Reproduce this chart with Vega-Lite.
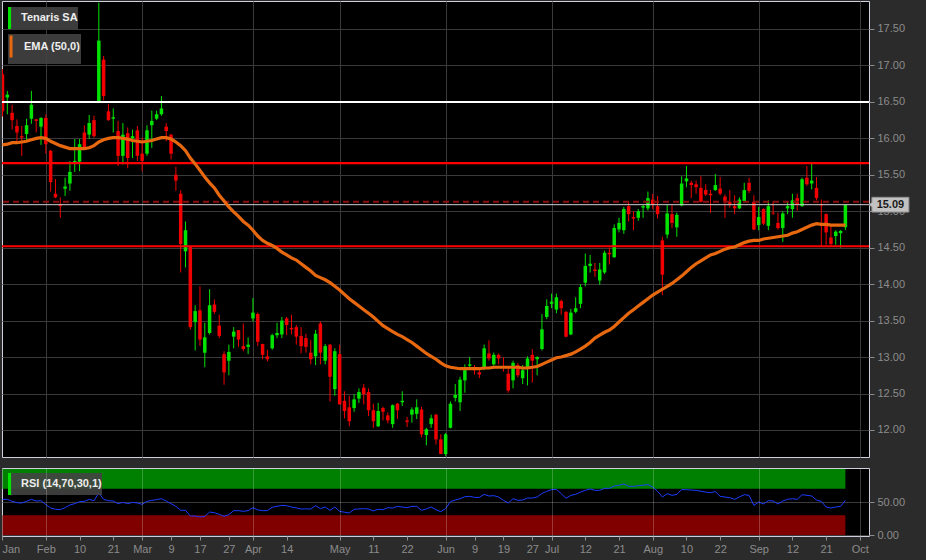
{
"$schema": "https://vega.github.io/schema/vega-lite/v6.json",
"background": "#2b2b2b",
"padding": {"left": 0, "top": 0, "right": 19, "bottom": 5},
"autosize": {"type": "pad"},
"spacing": 9,
"config": {
 "view": {"fill": "#000000", "stroke": "#cdd0dc", "strokeWidth": 1},
 "font": "Liberation Sans",
 "axis": {"labelFont": "Liberation Sans", "labelFontSize": 11, "labelColor": "#8c8c8c", "tickColor": "#8c8c8c", "domain": false, "title": null},
 "legend": {"title": null, "orient": "none", "padding": 0, "fillColor": "rgba(66,66,66,0.9)", "symbolSize": 484, "labelColor": "#eeeeee", "labelFont": "Liberation Sans", "labelFontSize": 11, "labelFontWeight": "bold", "labelOffset": -9, "labelLimit": 300}
},
"resolve": {"scale": {"opacity": "independent"}, "legend": {"opacity": "independent"}},
"datasets": {
 "px": [
{"i":0,"o":16.88,"h":16.95,"l":16.30,"c":16.37,"e":15.91,"r":54},
{"i":1,"o":16.56,"h":16.65,"l":16.33,"c":16.60,"e":15.92,"r":54},
{"i":2,"o":16.35,"h":16.46,"l":16.12,"c":16.25,"e":15.94,"r":51},
{"i":3,"o":16.17,"h":16.26,"l":15.96,"c":16.08,"e":15.94,"r":49},
{"i":4,"o":16.03,"h":16.17,"l":15.76,"c":16.01,"e":15.95,"r":48.5},
{"i":5,"o":16.06,"h":16.27,"l":15.97,"c":16.18,"e":15.96,"r":51},
{"i":6,"o":16.27,"h":16.65,"l":16.20,"c":16.46,"e":15.98,"r":54},
{"i":7,"o":16.26,"h":16.27,"l":16.08,"c":16.24,"e":16.00,"r":51.5},
{"i":8,"o":16.16,"h":16.29,"l":15.91,"c":16.28,"e":16.01,"r":52},
{"i":9,"o":16.28,"h":16.33,"l":15.79,"c":15.92,"e":16.00,"r":46},
{"i":10,"o":15.83,"h":15.84,"l":15.27,"c":15.40,"e":15.96,"r":41},
{"i":11,"o":15.24,"h":15.44,"l":15.18,"c":15.19,"e":15.93,"r":39},
{"i":12,"o":15.09,"h":15.19,"l":14.91,"c":15.07,"e":15.90,"r":38.4},
{"i":13,"o":15.31,"h":15.46,"l":15.21,"c":15.34,"e":15.88,"r":41.4},
{"i":14,"o":15.38,"h":15.69,"l":15.28,"c":15.54,"e":15.86,"r":45.5},
{"i":15,"o":15.67,"h":15.99,"l":15.54,"c":15.69,"e":15.86,"r":47.5},
{"i":16,"o":15.68,"h":15.99,"l":15.55,"c":15.92,"e":15.86,"r":50.5},
{"i":17,"o":16.08,"h":16.18,"l":15.85,"c":15.88,"e":15.86,"r":51},
{"i":18,"o":16.05,"h":16.32,"l":15.99,"c":16.21,"e":15.87,"r":54},
{"i":19,"o":16.25,"h":16.31,"l":16.01,"c":16.03,"e":15.90,"r":52},
{"i":20,"o":16.51,"h":17.86,"l":16.49,"c":17.34,"e":15.95,"r":63.6},
{"i":21,"o":17.08,"h":17.13,"l":16.52,"c":16.58,"e":15.98,"r":54},
{"i":22,"o":16.37,"h":16.47,"l":16.24,"c":16.25,"e":16.00,"r":52},
{"i":23,"o":16.27,"h":16.41,"l":16.08,"c":16.29,"e":16.01,"r":51.5},
{"i":24,"o":16.10,"h":16.24,"l":15.62,"c":15.76,"e":16.01,"r":47.5},
{"i":25,"o":15.76,"h":16.21,"l":15.64,"c":16.05,"e":16.00,"r":49.5},
{"i":26,"o":16.07,"h":16.15,"l":15.59,"c":15.73,"e":15.99,"r":47.5},
{"i":27,"o":16.00,"h":16.12,"l":15.73,"c":16.03,"e":15.97,"r":49.5},
{"i":28,"o":16.11,"h":16.17,"l":15.69,"c":15.76,"e":15.96,"r":48.5},
{"i":29,"o":15.79,"h":16.01,"l":15.55,"c":15.69,"e":15.95,"r":46.5},
{"i":30,"o":15.79,"h":16.18,"l":15.76,"c":16.11,"e":15.96,"r":51},
{"i":31,"o":16.18,"h":16.38,"l":15.87,"c":16.24,"e":15.97,"r":52.5},
{"i":32,"o":16.27,"h":16.38,"l":16.25,"c":16.33,"e":15.99,"r":53.5},
{"i":33,"o":16.33,"h":16.58,"l":16.31,"c":16.41,"e":16.01,"r":55},
{"i":34,"o":16.16,"h":16.21,"l":15.96,"c":16.10,"e":16.01,"r":51.5},
{"i":35,"o":16.05,"h":16.06,"l":15.71,"c":15.79,"e":15.99,"r":47.5},
{"i":36,"o":15.50,"h":15.61,"l":15.28,"c":15.42,"e":15.95,"r":43.4},
{"i":37,"o":15.24,"h":15.29,"l":14.16,"c":14.55,"e":15.90,"r":37.4},
{"i":38,"o":14.45,"h":14.86,"l":14.23,"c":14.74,"e":15.83,"r":37.4},
{"i":39,"o":14.52,"h":14.52,"l":13.38,"c":13.41,"e":15.73,"r":28.8},
{"i":40,"o":13.48,"h":13.71,"l":13.09,"c":13.63,"e":15.65,"r":28.8},
{"i":41,"o":13.64,"h":13.97,"l":13.15,"c":13.24,"e":15.56,"r":27.3},
{"i":42,"o":13.06,"h":13.47,"l":12.86,"c":13.27,"e":15.47,"r":28.3},
{"i":43,"o":13.33,"h":13.93,"l":13.31,"c":13.71,"e":15.39,"r":34.8},
{"i":44,"o":13.72,"h":13.79,"l":13.59,"c":13.62,"e":15.32,"r":33.8},
{"i":45,"o":13.43,"h":13.58,"l":13.26,"c":13.29,"e":15.22,"r":31.3},
{"i":46,"o":13.04,"h":13.08,"l":12.62,"c":12.79,"e":15.14,"r":28.3},
{"i":47,"o":12.95,"h":13.17,"l":12.75,"c":13.07,"e":15.06,"r":30.8},
{"i":48,"o":13.28,"h":13.41,"l":13.12,"c":13.35,"e":14.99,"r":36.9},
{"i":49,"o":13.37,"h":13.37,"l":13.14,"c":13.24,"e":14.93,"r":36.9},
{"i":50,"o":13.15,"h":13.46,"l":13.08,"c":13.11,"e":14.86,"r":35.9},
{"i":51,"o":13.14,"h":13.27,"l":13.04,"c":13.17,"e":14.81,"r":36.9},
{"i":52,"o":13.53,"h":13.81,"l":13.49,"c":13.61,"e":14.74,"r":41.4},
{"i":53,"o":13.59,"h":13.61,"l":13.15,"c":13.21,"e":14.66,"r":38},
{"i":54,"o":13.18,"h":13.18,"l":12.97,"c":13.03,"e":14.60,"r":36.9},
{"i":55,"o":13.01,"h":13.10,"l":12.94,"c":12.97,"e":14.56,"r":37},
{"i":56,"o":13.12,"h":13.32,"l":13.10,"c":13.30,"e":14.53,"r":41.9},
{"i":57,"o":13.30,"h":13.47,"l":13.26,"c":13.33,"e":14.49,"r":43.5},
{"i":58,"o":13.31,"h":13.55,"l":13.26,"c":13.50,"e":14.44,"r":44.9},
{"i":59,"o":13.53,"h":13.55,"l":13.30,"c":13.44,"e":14.40,"r":44.4},
{"i":60,"o":13.40,"h":13.58,"l":13.31,"c":13.38,"e":14.36,"r":42.4},
{"i":61,"o":13.41,"h":13.44,"l":13.17,"c":13.28,"e":14.33,"r":41},
{"i":62,"o":13.29,"h":13.41,"l":13.05,"c":13.15,"e":14.28,"r":39.4},
{"i":63,"o":13.26,"h":13.32,"l":13.06,"c":13.14,"e":14.23,"r":39.6},
{"i":64,"o":13.06,"h":13.23,"l":12.90,"c":12.97,"e":14.18,"r":39.4},
{"i":65,"o":13.01,"h":13.37,"l":12.89,"c":13.32,"e":14.12,"r":44.4},
{"i":66,"o":13.46,"h":13.49,"l":12.90,"c":13.06,"e":14.09,"r":39.9},
{"i":67,"o":12.95,"h":13.18,"l":12.90,"c":13.15,"e":14.06,"r":42.4},
{"i":68,"o":13.17,"h":13.18,"l":12.39,"c":12.73,"e":14.02,"r":37.4},
{"i":69,"o":12.56,"h":13.12,"l":12.47,"c":13.08,"e":13.97,"r":42.4},
{"i":70,"o":13.04,"h":13.17,"l":12.35,"c":12.35,"e":13.92,"r":35.9},
{"i":71,"o":12.40,"h":12.53,"l":12.16,"c":12.26,"e":13.86,"r":34.5},
{"i":72,"o":12.31,"h":12.47,"l":12.05,"c":12.12,"e":13.80,"r":33.3},
{"i":73,"o":12.30,"h":12.49,"l":12.25,"c":12.42,"e":13.75,"r":39},
{"i":74,"o":12.43,"h":12.57,"l":12.37,"c":12.52,"e":13.70,"r":39.5},
{"i":75,"o":12.58,"h":12.63,"l":12.35,"c":12.49,"e":13.65,"r":39.9},
{"i":76,"o":12.52,"h":12.57,"l":12.19,"c":12.27,"e":13.60,"r":39.4},
{"i":77,"o":12.27,"h":12.36,"l":12.03,"c":12.12,"e":13.55,"r":36.4},
{"i":78,"o":12.05,"h":12.37,"l":12.04,"c":12.26,"e":13.49,"r":39},
{"i":79,"o":12.30,"h":12.32,"l":12.13,"c":12.25,"e":13.43,"r":38.4},
{"i":80,"o":12.20,"h":12.24,"l":12.09,"c":12.13,"e":13.39,"r":41.4},
{"i":81,"o":12.08,"h":12.35,"l":12.03,"c":12.34,"e":13.35,"r":40.9},
{"i":82,"o":12.36,"h":12.37,"l":12.15,"c":12.27,"e":13.31,"r":43.4},
{"i":83,"o":12.38,"h":12.53,"l":12.33,"c":12.40,"e":13.28,"r":42.4},
{"i":84,"o":12.13,"h":12.18,"l":12.04,"c":12.11,"e":13.24,"r":41.4},
{"i":85,"o":12.21,"h":12.31,"l":12.10,"c":12.28,"e":13.20,"r":43.4},
{"i":86,"o":12.22,"h":12.42,"l":12.15,"c":12.31,"e":13.15,"r":43.4},
{"i":87,"o":12.28,"h":12.32,"l":11.90,"c":11.94,"e":13.10,"r":37.4},
{"i":88,"o":11.93,"h":12.03,"l":11.79,"c":12.01,"e":13.05,"r":39.5},
{"i":89,"o":12.08,"h":12.21,"l":12.03,"c":12.16,"e":13.01,"r":42.4},
{"i":90,"o":12.21,"h":12.22,"l":11.80,"c":11.87,"e":12.97,"r":38.4},
{"i":91,"o":11.87,"h":11.94,"l":11.67,"c":11.67,"e":12.92,"r":35.4},
{"i":92,"o":11.67,"h":11.96,"l":11.64,"c":11.94,"e":12.88,"r":40},
{"i":93,"o":12.03,"h":12.39,"l":12.02,"c":12.36,"e":12.86,"r":50.5},
{"i":94,"o":12.44,"h":12.63,"l":12.39,"c":12.48,"e":12.85,"r":53},
{"i":95,"o":12.38,"h":12.73,"l":12.26,"c":12.69,"e":12.84,"r":55},
{"i":96,"o":12.68,"h":12.90,"l":12.51,"c":12.82,"e":12.84,"r":58},
{"i":97,"o":12.88,"h":13.00,"l":12.85,"c":12.90,"e":12.84,"r":58.6},
{"i":98,"o":12.83,"h":12.89,"l":12.76,"c":12.82,"e":12.84,"r":57},
{"i":99,"o":12.79,"h":12.85,"l":12.71,"c":12.76,"e":12.84,"r":57},
{"i":100,"o":12.86,"h":13.17,"l":12.82,"c":13.12,"e":12.85,"r":61.6},
{"i":101,"o":13.05,"h":13.23,"l":12.95,"c":12.98,"e":12.85,"r":59.1},
{"i":102,"o":12.90,"h":13.06,"l":12.88,"c":13.03,"e":12.86,"r":59.6},
{"i":103,"o":13.03,"h":13.05,"l":12.90,"c":12.98,"e":12.86,"r":57.6},
{"i":104,"o":12.87,"h":13.00,"l":12.80,"c":12.85,"e":12.86,"r":52.5},
{"i":105,"o":12.77,"h":12.85,"l":12.51,"c":12.54,"e":12.86,"r":48.5},
{"i":106,"o":12.68,"h":12.95,"l":12.57,"c":12.92,"e":12.86,"r":55},
{"i":107,"o":12.89,"h":12.92,"l":12.72,"c":12.75,"e":12.86,"r":52.5},
{"i":108,"o":12.71,"h":12.89,"l":12.63,"c":12.82,"e":12.85,"r":53},
{"i":109,"o":12.85,"h":13.01,"l":12.61,"c":12.98,"e":12.85,"r":56},
{"i":110,"o":13.03,"h":13.11,"l":12.65,"c":12.95,"e":12.86,"r":56},
{"i":111,"o":12.97,"h":13.01,"l":12.75,"c":13.00,"e":12.87,"r":57.6},
{"i":112,"o":13.11,"h":13.59,"l":13.09,"c":13.38,"e":12.90,"r":63},
{"i":113,"o":13.55,"h":13.79,"l":13.52,"c":13.70,"e":12.93,"r":66.2},
{"i":114,"o":13.73,"h":13.87,"l":13.67,"c":13.76,"e":12.96,"r":68.7},
{"i":115,"o":13.65,"h":13.87,"l":13.60,"c":13.82,"e":12.99,"r":69.2},
{"i":116,"o":13.77,"h":13.79,"l":13.58,"c":13.67,"e":13.00,"r":62.6},
{"i":117,"o":13.62,"h":13.63,"l":13.27,"c":13.28,"e":13.02,"r":55.6},
{"i":118,"o":13.31,"h":13.66,"l":13.30,"c":13.61,"e":13.04,"r":60.1},
{"i":119,"o":13.62,"h":13.82,"l":13.60,"c":13.67,"e":13.07,"r":61.6},
{"i":120,"o":13.73,"h":14.00,"l":13.67,"c":13.96,"e":13.11,"r":65},
{"i":121,"o":14.02,"h":14.42,"l":13.97,"c":14.25,"e":13.15,"r":67.7},
{"i":122,"o":14.25,"h":14.40,"l":14.16,"c":14.28,"e":13.20,"r":69.7},
{"i":123,"o":14.20,"h":14.29,"l":14.10,"c":14.18,"e":13.26,"r":67.7},
{"i":124,"o":14.05,"h":14.29,"l":13.99,"c":14.20,"e":13.30,"r":67.7},
{"i":125,"o":14.16,"h":14.46,"l":14.14,"c":14.43,"e":13.34,"r":70.7},
{"i":126,"o":14.43,"h":14.50,"l":14.27,"c":14.41,"e":13.37,"r":70.7},
{"i":127,"o":14.37,"h":14.82,"l":14.36,"c":14.77,"e":13.42,"r":74.2},
{"i":128,"o":14.75,"h":14.91,"l":14.71,"c":14.84,"e":13.48,"r":75.3},
{"i":129,"o":14.74,"h":15.06,"l":14.69,"c":15.03,"e":13.54,"r":77.3},
{"i":130,"o":15.07,"h":15.14,"l":14.86,"c":14.96,"e":13.60,"r":73.7},
{"i":131,"o":14.92,"h":15.00,"l":14.74,"c":14.90,"e":13.65,"r":73.7},
{"i":132,"o":14.91,"h":15.03,"l":14.87,"c":15.00,"e":13.70,"r":74.7},
{"i":133,"o":15.05,"h":15.09,"l":14.91,"c":15.07,"e":13.75,"r":75.5},
{"i":134,"o":15.04,"h":15.27,"l":15.01,"c":15.18,"e":13.80,"r":76.3},
{"i":135,"o":15.16,"h":15.24,"l":15.03,"c":15.09,"e":13.85,"r":72.7},
{"i":136,"o":15.07,"h":15.21,"l":14.90,"c":14.96,"e":13.89,"r":66.2},
{"i":137,"o":14.60,"h":14.65,"l":13.85,"c":14.13,"e":13.93,"r":57.6},
{"i":138,"o":14.68,"h":15.09,"l":14.63,"c":14.97,"e":13.97,"r":62.6},
{"i":139,"o":14.96,"h":15.09,"l":14.77,"c":14.84,"e":14.01,"r":60.1},
{"i":140,"o":14.78,"h":14.98,"l":14.65,"c":14.95,"e":14.06,"r":61.6},
{"i":141,"o":15.08,"h":15.48,"l":15.07,"c":15.38,"e":14.11,"r":68.7},
{"i":142,"o":15.41,"h":15.62,"l":15.33,"c":15.45,"e":14.17,"r":68.7},
{"i":143,"o":15.39,"h":15.42,"l":15.18,"c":15.36,"e":14.23,"r":68},
{"i":144,"o":15.37,"h":15.42,"l":15.24,"c":15.33,"e":14.28,"r":67.7},
{"i":145,"o":15.32,"h":15.48,"l":15.12,"c":15.13,"e":14.32,"r":66.2},
{"i":146,"o":15.29,"h":15.37,"l":15.21,"c":15.23,"e":14.36,"r":65},
{"i":147,"o":15.24,"h":15.29,"l":14.98,"c":15.22,"e":14.40,"r":64.1},
{"i":148,"o":15.29,"h":15.51,"l":15.28,"c":15.36,"e":14.42,"r":65.7},
{"i":149,"o":15.31,"h":15.47,"l":15.22,"c":15.24,"e":14.45,"r":58.6},
{"i":150,"o":15.20,"h":15.23,"l":14.91,"c":15.13,"e":14.48,"r":57.5},
{"i":151,"o":15.13,"h":15.29,"l":15.05,"c":15.10,"e":14.50,"r":56.6},
{"i":152,"o":15.07,"h":15.22,"l":14.96,"c":15.04,"e":14.51,"r":54},
{"i":153,"o":15.04,"h":15.19,"l":15.03,"c":15.16,"e":14.54,"r":57.6},
{"i":154,"o":15.14,"h":15.39,"l":15.12,"c":15.29,"e":14.57,"r":61.1},
{"i":155,"o":15.39,"h":15.46,"l":15.25,"c":15.28,"e":14.59,"r":60.1},
{"i":156,"o":15.13,"h":15.22,"l":14.74,"c":14.75,"e":14.60,"r":44.9},
{"i":157,"o":14.81,"h":15.06,"l":14.74,"c":14.92,"e":14.60,"r":50},
{"i":158,"o":15.03,"h":15.04,"l":14.81,"c":14.83,"e":14.62,"r":47},
{"i":159,"o":14.80,"h":15.15,"l":14.74,"c":15.07,"e":14.63,"r":52},
{"i":160,"o":14.98,"h":15.14,"l":14.95,"c":14.97,"e":14.64,"r":51.5},
{"i":161,"o":14.84,"h":14.98,"l":14.75,"c":14.77,"e":14.65,"r":47},
{"i":162,"o":14.77,"h":15.00,"l":14.58,"c":14.97,"e":14.66,"r":51.5},
{"i":163,"o":15.04,"h":15.14,"l":14.96,"c":15.07,"e":14.67,"r":54},
{"i":164,"o":15.03,"h":15.24,"l":14.91,"c":15.15,"e":14.70,"r":55},
{"i":165,"o":15.18,"h":15.24,"l":15.01,"c":15.09,"e":14.72,"r":54},
{"i":166,"o":15.07,"h":15.46,"l":15.06,"c":15.44,"e":14.75,"r":61.1},
{"i":167,"o":15.46,"h":15.62,"l":15.35,"c":15.37,"e":14.78,"r":60.1},
{"i":168,"o":15.38,"h":15.65,"l":15.30,"c":15.42,"e":14.81,"r":59.1},
{"i":169,"o":15.32,"h":15.47,"l":15.15,"c":15.18,"e":14.83,"r":53},
{"i":170,"o":15.09,"h":15.16,"l":14.52,"c":15.08,"e":14.82,"r":51},
{"i":171,"o":14.96,"h":14.97,"l":14.54,"c":14.71,"e":14.82,"r":42.4},
{"i":172,"o":14.64,"h":14.80,"l":14.52,"c":14.55,"e":14.81,"r":40.9},
{"i":173,"o":14.66,"h":14.74,"l":14.54,"c":14.72,"e":14.81,"r":42.4},
{"i":174,"o":14.70,"h":14.74,"l":14.50,"c":14.73,"e":14.81,"r":43.4},
{"i":175,"o":14.78,"h":15.09,"l":14.74,"c":15.09,"e":14.81,"r":52.5}
 ]
},
"vconcat": [
 {
  "width": 867,
  "height": 456,
  "data": {"name": "px"},
  "layer": [
   {
    "mark": {"type": "rule", "strokeWidth": 1, "clip": true},
    "encoding": {
     "x": {"field": "i", "type": "quantitative", "scale": {"domain": [-0.1, 179.9], "nice": false, "zero": false, "padding": 0},
      "axis": {"values": [9, 29, 52, 70, 92, 114, 135, 157, 178], "tickCount": 100, "grid": true, "gridColor": "#3a3a3a", "labels": false, "ticks": false, "domain": false, "title": null}},
     "y": {"field": "l", "type": "quantitative", "scale": {"domain": [11.629, 17.884], "nice": false, "zero": false, "padding": 0},
      "axis": {"orient": "right", "values": [12, 12.5, 13, 13.5, 14, 14.5, 15, 15.5, 16, 16.5, 17, 17.5], "tickCount": 100, "format": ".2f", "grid": true, "gridColor": "#3a3a3a", "tickSize": 5, "labelPadding": 3, "title": null}},
     "y2": {"field": "h"},
     "color": {"condition": {"test": "datum.c >= datum.o", "value": "#00e400"}, "value": "#f00000"}
    }
   },
   {
    "transform": [{"filter": "datum.c < datum.o"}],
    "mark": {"type": "bar", "size": 3.5, "clip": true, "color": "#f00000"},
    "encoding": {
     "x": {"field": "i", "type": "quantitative"},
     "y": {"field": "o", "type": "quantitative"},
     "y2": {"field": "c"}
    }
   },
   {
    "transform": [{"filter": "datum.c >= datum.o"}],
    "mark": {"type": "bar", "size": 3.5, "clip": true, "color": "#00e400"},
    "encoding": {
     "x": {"field": "i", "type": "quantitative"},
     "y": {"field": "o", "type": "quantitative"},
     "y2": {"field": "c"},
     "opacity": {"datum": "Tenaris SA\u00a0\u00a0\u00a0\u00a0", "type": "nominal", "scale": {"range": [1, 1]},
      "legend": {"legendX": 6, "legendY": 6, "symbolType": "M-1,-1L-0.72,-1L-0.72,1L-1,1Z", "symbolStrokeWidth": 0, "symbolOpacity": 1}}
    }
   },
   {
    "data": {"values": [{"level": 16.5}]},
    "mark": {"type": "rule", "color": "#ffffff", "strokeWidth": 2},
    "encoding": {"y": {"field": "level", "type": "quantitative"}}
   },
   {
    "data": {"values": [{"level": 15.66}, {"level": 14.52}]},
    "mark": {"type": "rule", "color": "#ff0000", "strokeWidth": 2.2},
    "encoding": {"y": {"field": "level", "type": "quantitative"}}
   },
   {
    "data": {"values": [{"level": 15.13}]},
    "mark": {"type": "rule", "color": "#8c0f0f", "strokeWidth": 2, "strokeDash": [6, 4]},
    "encoding": {"y": {"field": "level", "type": "quantitative"}}
   },
   {
    "transform": [{"filter": "datum.i == 175"}],
    "mark": {"type": "rule", "color": "#cfcfcf", "strokeWidth": 1},
    "encoding": {"y": {"field": "c", "type": "quantitative"}}
   },
   {
    "mark": {"type": "line", "strokeWidth": 3.2, "clip": true},
    "encoding": {
     "x": {"field": "i", "type": "quantitative"},
     "y": {"field": "e", "type": "quantitative"},
     "stroke": {"datum": "EMA (50,0)\u00a0\u00a0\u00a0\u00a0\u00a0\u00a0", "type": "nominal", "scale": {"range": ["#e8680f"]},
      "legend": {"legendX": 6, "legendY": 33, "symbolType": "M-0.86,-1L-0.86,1", "symbolStrokeWidth": 3, "symbolStrokeColor": "#e8680f", "symbolFillColor": "transparent"}}
    }
   },
   {
    "transform": [{"filter": "datum.i == 175"}],
    "mark": {"type": "point", "shape": "M-1,-0.4L1,-0.4L1,0.4L-1,0.4L-1,0.12L-1.16,0L-1,-0.12Z", "size": 1369, "filled": true, "fill": "#c2c2c2", "stroke": "#8f8f8f", "strokeWidth": 1, "opacity": 1, "xOffset": 45},
    "encoding": {"x": {"field": "i", "type": "quantitative"}, "y": {"field": "c", "type": "quantitative"}}
   },
   {
    "transform": [{"filter": "datum.i == 175"}],
    "mark": {"type": "text", "xOffset": 45, "fontSize": 11, "fontWeight": "bold", "color": "#1a1a1a", "font": "Liberation Sans"},
    "encoding": {"x": {"field": "i", "type": "quantitative"}, "y": {"field": "c", "type": "quantitative"}, "text": {"field": "c", "type": "quantitative", "format": ".2f"}}
   }
  ]
 },
 {
  "width": 867,
  "height": 68,
  "data": {"name": "px"},
  "layer": [
   {
    "mark": {"type": "area", "color": "#008000", "clip": true},
    "encoding": {
     "x": {"field": "i", "type": "quantitative", "scale": {"domain": [-0.1, 179.9], "nice": false, "zero": false, "padding": 0},
      "axis": {"values": [-0.1, 9, 16, 23, 29, 35, 41, 47, 52, 59, 70, 77, 84, 92, 98, 104, 110, 114, 121, 128, 135, 142, 149, 157, 164, 171, 178],
       "tickCount": 200,
       "labelExpr": "['Jan','Feb','10','21','Mar','9','17','27','Apr','14','May','11','22','Jun','9','19','27','Jul','12','21','Aug','10','22','Sep','12','21','Oct'][indexof([-0.1,9,16,23,29,35,41,47,52,59,70,77,84,92,98,104,110,114,121,128,135,142,149,157,164,171,178], datum.value)]",
       "labelOverlap": false, "labelFlush": 1, "tickSize": 4, "labelPadding": 3, "grid": true, "gridColor": "#ffffff",
       "gridOpacity": {"condition": {"test": "indexof([9,29,52,70,92,114,135,157,178], datum.value) >= 0", "value": 0.22}, "value": 0},
       "zindex": 1, "title": null}},
     "y": {"datum": 70, "type": "quantitative", "scale": {"domain": [-1.5, 101.5], "nice": false, "zero": false, "padding": 0},
      "axis": {"orient": "right", "values": [0, 50], "tickCount": 100, "format": ".2f", "grid": true, "gridColor": "#3a3a3a", "tickSize": 5, "labelPadding": 3, "title": null}},
     "y2": {"datum": 100}
    }
   },
   {
    "mark": {"type": "area", "color": "#800000", "clip": true},
    "encoding": {
     "x": {"field": "i", "type": "quantitative"},
     "y": {"datum": 0, "type": "quantitative"},
     "y2": {"datum": 30}
    }
   },
   {
    "mark": {"type": "line", "color": "#1c3cff", "strokeWidth": 1, "clip": true},
    "encoding": {
     "x": {"field": "i", "type": "quantitative"},
     "y": {"field": "r", "type": "quantitative"}
    }
   },
   {
    "transform": [{"filter": "datum.i < 0"}],
    "mark": {"type": "bar", "size": 3, "color": "#00e400"},
    "encoding": {
     "x": {"field": "i", "type": "quantitative"},
     "y": {"field": "r", "type": "quantitative"},
     "opacity": {"datum": "RSI (14,70,30,1)\u00a0\u00a0\u00a0\u00a0\u00a0", "type": "nominal", "scale": {"range": [1, 1]},
      "legend": {"legendX": 6, "legendY": 5, "symbolType": "M-1,-1L-0.72,-1L-0.72,1L-1,1Z", "symbolStrokeWidth": 0, "symbolOpacity": 1}}
    }
   }
  ]
 }
]
}
